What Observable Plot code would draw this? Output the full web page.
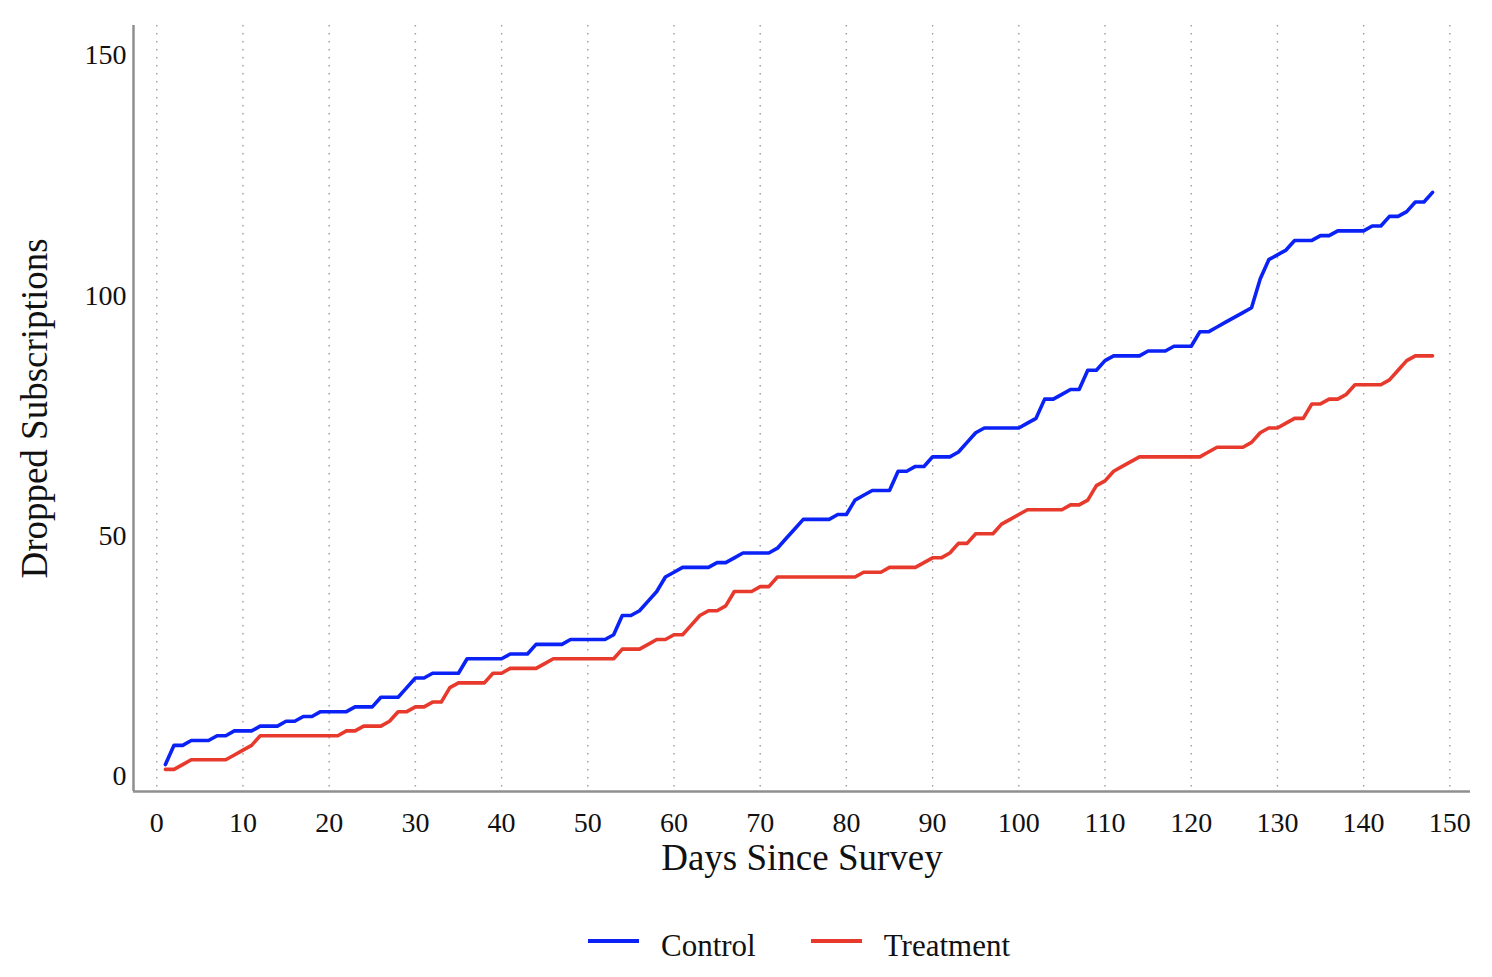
<!DOCTYPE html>
<html>
<head>
<meta charset="utf-8">
<script src="https://cdn.jsdelivr.net/npm/d3@7"></script>
<script src="https://cdn.jsdelivr.net/npm/@observablehq/plot@0.6"></script>
<style>
  html, body { margin: 0; padding: 0; background: #fff; }
  body { font-family: "Liberation Serif", "DejaVu Serif", serif; color: #111; }
  #wrap { position: relative; width: 1492px; height: 977px; }
  #legend { position: absolute; left: 588px; top: 922px; display: flex; align-items: center; font-size: 31px; }
  #legend .sw { height: 3.5px; }
  #legend .lab { margin-left: 22px; line-height: 38px; position: relative; top: 5px; }
  #legend .item { display: flex; align-items: center; margin-right: 55px; }
</style>
</head>
<body>
<div id="wrap">
  <div id="chart"></div>
  <div id="legend"></div>
</div>
<script>
// ---- Data ----
const groups = ["Control", "Treatment"];
const colors = ["#0a22f5", "#e8392d"];

// Cumulative dropped subscriptions, days 1..148
const control = [
  3, 7, 7, 8, 8, 8, 9, 9, 10, 10,
  10, 11, 11, 11, 12, 12, 13, 13, 14, 14,
  14, 14, 15, 15, 15, 17, 17, 17, 19, 21,
  21, 22, 22, 22, 22, 25, 25, 25, 25, 25,
  26, 26, 26, 28, 28, 28, 28, 29, 29, 29,
  29, 29, 30, 34, 34, 35, 37, 39, 42, 43,
  44, 44, 44, 44, 45, 45, 46, 47, 47, 47,
  47, 48, 50, 52, 54, 54, 54, 54, 55, 55,
  58, 59, 60, 60, 60, 64, 64, 65, 65, 67,
  67, 67, 68, 70, 72, 73, 73, 73, 73, 73,
  74, 75, 79, 79, 80, 81, 81, 85, 85, 87,
  88, 88, 88, 88, 89, 89, 89, 90, 90, 90,
  93, 93, 94, 95, 96, 97, 98, 104, 108, 109,
  110, 112, 112, 112, 113, 113, 114, 114, 114, 114,
  115, 115, 117, 117, 118, 120, 120, 122
];
const treatment = [
  2, 2, 3, 4, 4, 4, 4, 4, 5, 6,
  7, 9, 9, 9, 9, 9, 9, 9, 9, 9,
  9, 10, 10, 11, 11, 11, 12, 14, 14, 15,
  15, 16, 16, 19, 20, 20, 20, 20, 22, 22,
  23, 23, 23, 23, 24, 25, 25, 25, 25, 25,
  25, 25, 25, 27, 27, 27, 28, 29, 29, 30,
  30, 32, 34, 35, 35, 36, 39, 39, 39, 40,
  40, 42, 42, 42, 42, 42, 42, 42, 42, 42,
  42, 43, 43, 43, 44, 44, 44, 44, 45, 46,
  46, 47, 49, 49, 51, 51, 51, 53, 54, 55,
  56, 56, 56, 56, 56, 57, 57, 58, 61, 62,
  64, 65, 66, 67, 67, 67, 67, 67, 67, 67,
  67, 68, 69, 69, 69, 69, 70, 72, 73, 73,
  74, 75, 75, 78, 78, 79, 79, 80, 82, 82,
  82, 82, 83, 85, 87, 88, 88, 88
];

const xTicks = [0, 10, 20, 30, 40, 50, 60, 70, 80, 90, 100, 110, 120, 130, 140, 150];
const yTicks = [0, 50, 100, 150];
const xDomain = [-2.7, 152.4];
const yDomain = [-2.6, 156.7];
const xTitle = "Days Since Survey";
const yTitle = "Dropped Subscriptions";

// ---- Build table ----
const series = [control, treatment];
const rows = [];
series.forEach((vals, g) => vals.forEach((v, i) => rows.push({day: i + 1, value: v, group: groups[g]})));

const font = '"Liberation Serif", "DejaVu Serif", serif';
const axisColor = "#8f8f8f";

const chart = Plot.plot({
  width: 1492,
  height: 890,
  marginLeft: 133,
  marginRight: 22,
  marginTop: 25,
  marginBottom: 99,
  style: {fontFamily: font, fontSize: "28px", color: "#111", background: "#fff", overflow: "visible"},
  x: {domain: xDomain, label: null},
  y: {domain: yDomain, label: null},
  color: {domain: groups, range: colors},
  marks: [
    Plot.gridX(xTicks, {stroke: "#9a9a9a", strokeOpacity: 1, strokeWidth: 1.4, strokeDasharray: "1.4,6.6"}),
    Plot.axisX(xTicks, {tickSize: 0, tickPadding: 21, fontSize: 28, label: null}),
    Plot.axisY(yTicks, {tickSize: 0, tickPadding: 7, fontSize: 28, dy: -2.5, label: null}),
    Plot.ruleX([xDomain[0]], {stroke: axisColor, strokeWidth: 2.5}),
    Plot.ruleY([yDomain[0]], {stroke: axisColor, strokeWidth: 2.5}),
    Plot.line(rows, {x: "day", y: "value", z: "group", stroke: "group", strokeWidth: 3.6, strokeLinejoin: "round"}),
    Plot.text([xTitle], {frameAnchor: "bottom", dy: 67, lineAnchor: "middle", textAnchor: "middle", fontSize: 37, fill: "#111"}),
    Plot.text([yTitle], {frameAnchor: "left", dx: -98, rotate: -90, lineAnchor: "middle", textAnchor: "middle", fontSize: 37, fill: "#111"})
  ]
});
document.getElementById("chart").appendChild(chart);

// ---- Legend ----
const legend = document.getElementById("legend");
groups.forEach((g, i) => {
  const item = document.createElement("div");
  item.className = "item";
  const sw = document.createElement("div");
  sw.className = "sw";
  sw.style.width = "51px";
  sw.style.background = colors[i];
  const lab = document.createElement("span");
  lab.className = "lab";
  lab.textContent = g;
  item.appendChild(sw);
  item.appendChild(lab);
  legend.appendChild(item);
});
</script>
</body>
</html>
